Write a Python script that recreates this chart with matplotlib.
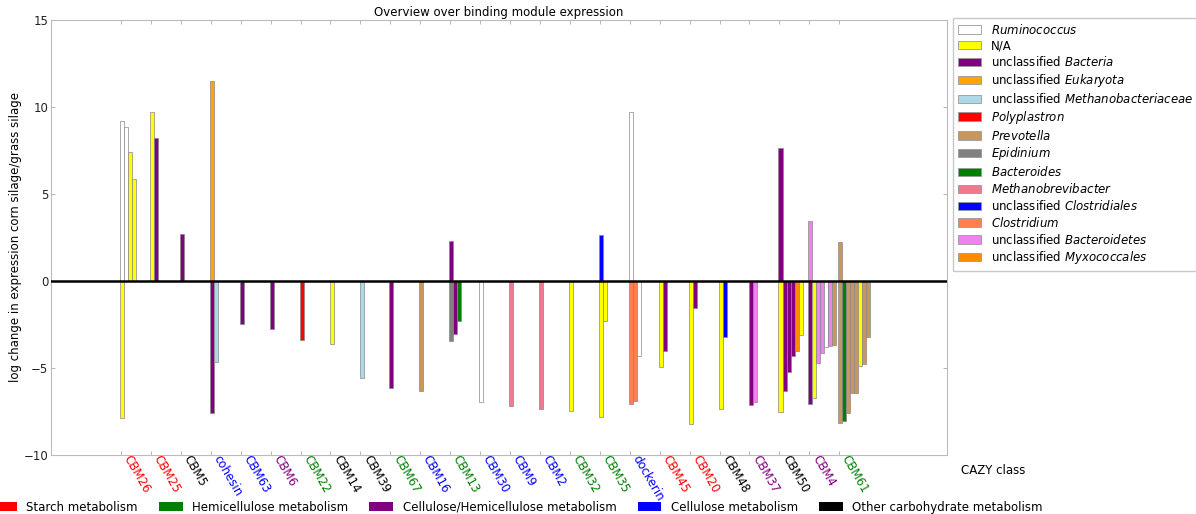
# -*- coding: utf-8 -*-
import numpy as np
import matplotlib
matplotlib.use("Agg")
import matplotlib.pyplot as plt
from matplotlib.patches import Patch

plt.rcParams['font.family'] = ['DejaVu Sans']
plt.rcParams['font.size'] = 8.5

# CAZY classes on the x axis and their metabolism group
categories = ['CBM26', 'CBM25', 'CBM5', 'cohesin', 'CBM63', 'CBM6', 'CBM22', 'CBM14',
              'CBM39', 'CBM67', 'CBM16', 'CBM13', 'CBM30', 'CBM9', 'CBM2', 'CBM32',
              'CBM35', 'dockerin', 'CBM45', 'CBM20', 'CBM48', 'CBM37', 'CBM50', 'CBM4',
              'CBM61']
cat_group = ['Starch', 'Starch', 'Other', 'Cellulose', 'Cellulose', 'CelHemi', 'Hemi', 'Other',
             'Other', 'Hemi', 'Cellulose', 'Hemi', 'Cellulose', 'Cellulose', 'Cellulose', 'Hemi',
             'Hemi', 'Cellulose', 'Starch', 'Starch', 'Other', 'CelHemi', 'Other', 'CelHemi',
             'Hemi']

groups = ['Starch', 'Hemi', 'CelHemi', 'Cellulose', 'Other']
group_names = ['Starch metabolism', 'Hemicellulose metabolism',
               'Cellulose/Hemicellulose metabolism', 'Cellulose metabolism',
               'Other carbohydrate metabolism']
group_colors = ['red', 'green', 'purple', 'blue', 'black']

# taxa (legend order)
taxa = ['Rum', 'NA', 'uBact', 'uEuk', 'uMbact', 'Poly', 'Prev', 'Epid', 'Bcdes',
        'Mbrev', 'uClos', 'Clos', 'uBctd', 'uMyxo']
taxa_labels = [r'$\mathit{Ruminococcus}$', 'N/A', r'unclassified $\mathit{Bacteria}$',
               r'unclassified $\mathit{Eukaryota}$',
               r'unclassified $\mathit{Methanobacteriaceae}$', r'$\mathit{Polyplastron}$',
               r'$\mathit{Prevotella}$', r'$\mathit{Epidinium}$', r'$\mathit{Bacteroides}$',
               r'$\mathit{Methanobrevibacter}$', r'unclassified $\mathit{Clostridiales}$',
               r'$\mathit{Clostridium}$', r'unclassified $\mathit{Bacteroidetes}$',
               r'unclassified $\mathit{Myxococcales}$']
taxa_colors = ['white', 'yellow', 'purple', 'orange', 'lightblue', 'red', '#C8965F',
               'gray', 'green', '#F07A8C', 'blue', 'coral', 'violet', 'darkorange']

# one entry per bar: category, slot inside the category, taxon, log change
bar_cat = ['CBM26'] * 5 + ['CBM25'] * 2 + ['CBM5'] + ['cohesin'] * 3 + ['CBM63', 'CBM6', 'CBM22', 'CBM14', 'CBM39', 'CBM67', 'CBM16'] \
    + ['CBM13'] * 4 + ['CBM30', 'CBM9', 'CBM2', 'CBM32'] + ['CBM35'] * 3 + ['dockerin'] * 4 \
    + ['CBM45'] * 2 + ['CBM20'] * 2 + ['CBM48'] * 2 + ['CBM37'] * 2 + ['CBM50'] * 7 \
    + ['CBM4'] * 8 + ['CBM61'] * 9
bar_slot = [0, 0, 1, 2, 3,   0, 1,   0,   0, 0, 1,   0, 0, 0, 0, 0, 0, 0,
            0, 0, 1, 2,   0, 0, 0, 0,   0, 0, 1,   0, 0, 1, 2,
            0, 1,   0, 1,   0, 1,   0, 1,   0, 0, 1, 2, 3, 4, 5,
            0, 0, 1, 2, 3, 4, 5, 6,   0, 0, 1, 2, 3, 4, 5, 6, 7]
bar_taxon = ['Rum', 'NA', 'Rum', 'NA', 'NA',   'NA', 'uBact',   'uBact',
             'uEuk', 'uBact', 'uMbact',   'uBact', 'uBact', 'Poly', 'NA', 'uMbact', 'uBact', 'Prev',
             'uBact', 'Epid', 'uBact', 'Bcdes',   'Rum', 'Mbrev', 'Mbrev', 'NA',
             'uClos', 'NA', 'NA',   'Rum', 'Clos', 'Clos', 'Rum',
             'NA', 'uBact',   'NA', 'uBact',   'NA', 'uClos',   'uBact', 'uBctd',
             'uBact', 'NA', 'uBact', 'uBact', 'uBact', 'uMyxo', 'NA',
             'uBctd', 'uBact', 'NA', 'uBctd', 'uBctd', 'Rum', 'uBctd', 'Prev',
             'Prev', 'Prev', 'Bcdes', 'Prev', 'Prev', 'Prev', 'NA', 'Prev', 'Prev']
bar_value = [9.21, -7.89, 8.83, 7.39, 5.88,   9.73, 8.20,   2.68,
             11.51, -7.60, -4.64,   -2.47, -2.76, -3.39, -3.64, -5.56, -6.17, -6.32,
             2.30, -3.45, -3.07, -2.30,   -6.93, -7.16, -7.38, -7.45,
             2.64, -7.83, -2.30,   9.73, -7.07, -6.90, -4.29,
             -4.92, -4.02,   -8.22, -1.57,   -7.36, -3.24,   -7.13, -6.95,
             7.62, -7.55, -6.30, -5.21, -4.31, -4.02, -3.10,
             3.47, -7.09, -6.70, -4.73, -4.16, -3.81, -3.74, -3.68,
             2.26, -8.18, -8.03, -7.60, -6.42, -6.42, -4.87, -4.77, -3.20]

width = 0.134

fig = plt.figure(figsize=(11.96, 5.14), dpi=100)
ax = fig.add_axes([0.0426, 0.1148, 0.7492, 0.8463])

xs = np.array([categories.index(c) for c in bar_cat]) + np.array(bar_slot) * width - 0.03
cols = [taxa_colors[taxa.index(t)] for t in bar_taxon]
ax.bar(xs, bar_value, width=width, align='edge', color=cols, edgecolor='#888888',
       linewidth=0.5, zorder=2)

ax.axhline(0, color='black', linewidth=1.8, zorder=3)

ax.set_xlim(-2.34, 27.6)
ax.set_ylim(-10, 15)
ax.set_yticks([-10, -5, 0, 5, 10, 15])
ax.set_xticks(range(len(categories)))
ax.set_xticklabels(categories, rotation=-60, ha='left', va='bottom', rotation_mode='anchor')
for lab, g in zip(ax.get_xticklabels(), cat_group):
    lab.set_color(group_colors[groups.index(g)])
ax.tick_params(direction='in', top=True, right=True, length=3, color='#aaaaaa', width=0.6)
ax.tick_params(axis='y', colors='#aaaaaa', labelcolor='#222222', pad=2)
ax.tick_params(axis='x', pad=3)
for s in ax.spines.values():
    s.set_color('#bbbbbb')

ax.set_title('Overview over binding module expression', fontsize=8.5, pad=3)
ax.set_ylabel('log change in expression corn silage/grass silage', fontsize=8.5, labelpad=1)
fig.text(0.8035, 1 - 470 / 514, 'CAZY class', ha='left', va='center', fontsize=8.5)

handles = [Patch(facecolor=c, edgecolor='#999999', linewidth=0.6) for c in taxa_colors]
leg = ax.legend(handles, taxa_labels, loc='upper left', bbox_to_anchor=(1.0067, 1.005),
                fancybox=False, handlelength=2.0, fontsize=8.5, borderaxespad=0,
                labelspacing=0.24)
leg.get_frame().set_edgecolor('#bbbbbb')

ghandles = [Patch(facecolor=c) for c in group_colors]
fig.legend(ghandles, group_names, loc='center', bbox_to_anchor=(0.433, 0.0136), ncol=5,
           frameon=False, fontsize=8.5, handlelength=2.0, columnspacing=1.8)

fig.savefig('out.png', dpi=100)
